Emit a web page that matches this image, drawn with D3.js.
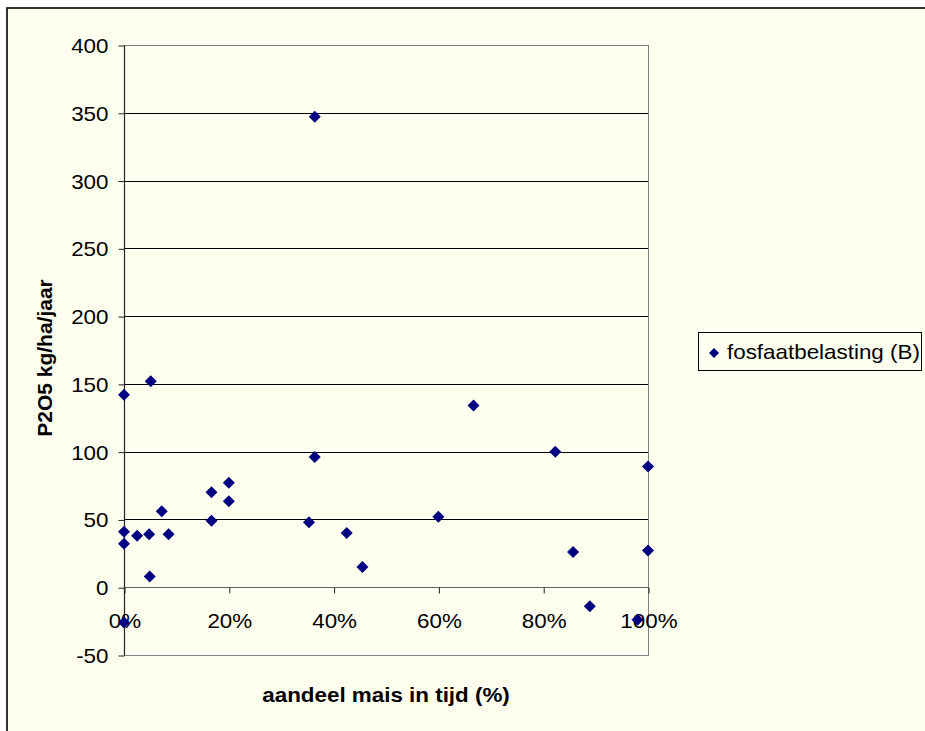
<!DOCTYPE html>
<html>
<head>
<meta charset="utf-8">
<script src="https://cdn.jsdelivr.net/npm/d3@7"></script>
<style>
  html, body { margin: 0; padding: 0; background: #ffffff; }
  svg { display: block; }
  text { font-family: "Liberation Sans", Arial, sans-serif; fill: #000; }
</style>
</head>
<body>
<svg id="chart" width="925" height="731"></svg>
<script>
// ---- data ----
const maisShare = [0, 5.1, 0, 0, 2.5, 4.8, 7.2, 8.5, 4.9, 0, 16.7, 16.7, 20, 20, 36.4, 36.4, 35.3, 42.5, 45.5, 60, 66.7, 82.3, 100, 85.7, 100, 88.9, 98];
const fosfaat   = [142, 152, 41, 32, 38, 39, 56, 39, 8, -26, 70, 49, 77, 63.5, 347, 96, 48, 40, 15, 52, 134, 100, 89, 26, 27, -14, -24];
const yTicks = [-50, 0, 50, 100, 150, 200, 250, 300, 350, 400];
const xTicks = [0, 20, 40, 60, 80, 100];
const seriesName = "fosfaatbelasting (B)";
const xTitle = "aandeel mais in tijd (%)";
const yTitle = "P2O5 kg/ha/jaar";

const svg = d3.select("#chart");
const W = 925, H = 731;
const plot = { left: 124, right: 648, top: 45, bottom: 655 };
const bg = "#FFFFF0";
const navy = "#000080";
const sx = 1.12; // horizontal text stretch

// background + outer frame
svg.append("rect").attr("x", 7).attr("y", 8).attr("width", W).attr("height", H)
  .attr("fill", bg).attr("stroke", "#000").attr("stroke-width", 1.6);

const x = d3.scaleLinear().domain([0, 100]).range([plot.left, plot.right]);
const y = d3.scaleLinear().domain([-50, 400]).range([plot.bottom, plot.top]);

// gridlines
svg.append("g").selectAll("line").data(yTicks.filter(t => t > -50 && t < 400)).join("line")
  .attr("x1", plot.left).attr("x2", plot.right)
  .attr("y1", d => Math.round(y(d)) + 0.5).attr("y2", d => Math.round(y(d)) + 0.5)
  .attr("stroke", d => d === 0 ? "#606060" : "#000").attr("stroke-width", 1);

// plot area border (gray)
svg.append("rect")
  .attr("x", plot.left + 0.5).attr("y", Math.round(plot.top) + 0.5)
  .attr("width", plot.right - plot.left).attr("height", Math.round(plot.bottom) - Math.round(plot.top))
  .attr("fill", "none").attr("stroke", "#808080").attr("stroke-width", 1);

// y axis
const yAxis = d3.axisLeft(y).tickValues(yTicks).tickSize(6).tickPadding(10).tickFormat(d => String(d));
const gy = svg.append("g").attr("transform", `translate(${plot.left + 0.5},0.5)`).call(yAxis);
gy.select(".domain").attr("stroke", "#222").attr("stroke-width", 1.2).attr("d", `M0,${y(400)}V${y(-50)}`);
gy.selectAll(".tick line").attr("stroke", "#222");
gy.selectAll(".tick text").attr("font-size", 20).attr("font-family", "Liberation Sans, Arial, sans-serif")
  .attr("fill", "#000").attr("dy", "0.35em")
  .attr("transform", function () { const xx = +d3.select(this).attr("x"); return `translate(${xx},0) scale(${sx},1) translate(${-xx},0)`; });

// x axis at y=0
const xAxis = d3.axisBottom(x).tickValues(xTicks).tickSize(6).tickPadding(20).tickFormat(d => d + "%");
const gx = svg.append("g").attr("transform", `translate(0.5,${Math.round(y(0)) + 0.5})`).call(xAxis);
gx.select(".domain").remove();
gx.selectAll(".tick line").attr("stroke", "#222");
gx.selectAll(".tick text").attr("font-size", 20).attr("font-family", "Liberation Sans, Arial, sans-serif")
  .attr("fill", "#000").attr("transform", `scale(${sx},1)`);

// points
const diamond = "M0,-6L6,0L0,6L-6,0Z";
svg.append("g").selectAll("path").data(maisShare.map((v, i) => [v, fosfaat[i]])).join("path")
  .attr("d", diamond).attr("fill", navy)
  .attr("transform", d => `translate(${x(d[0])},${y(d[1])})`);

// axis titles
svg.append("text").attr("transform", `translate(386,702) scale(${sx},1)`)
  .attr("text-anchor", "middle").attr("font-weight", "bold").attr("font-size", 20).text(xTitle);
svg.append("text").attr("transform", `translate(52,358) rotate(-90) scale(1.05,1)`)
  .attr("text-anchor", "middle").attr("font-weight", "bold").attr("font-size", 20).text(yTitle);

// legend
const lg = svg.append("g");
lg.append("rect").attr("x", 698.5).attr("y", 332.5).attr("width", 223).attr("height", 38)
  .attr("fill", bg).attr("stroke", "#000").attr("stroke-width", 1);
lg.append("path").attr("d", "M0,-5L5,0L0,5L-5,0Z").attr("fill", navy).attr("transform", "translate(714,353)");
lg.append("text").attr("transform", `translate(727,359) scale(${sx},1)`).attr("font-size", 20).text(seriesName);
</script>
</body>
</html>
